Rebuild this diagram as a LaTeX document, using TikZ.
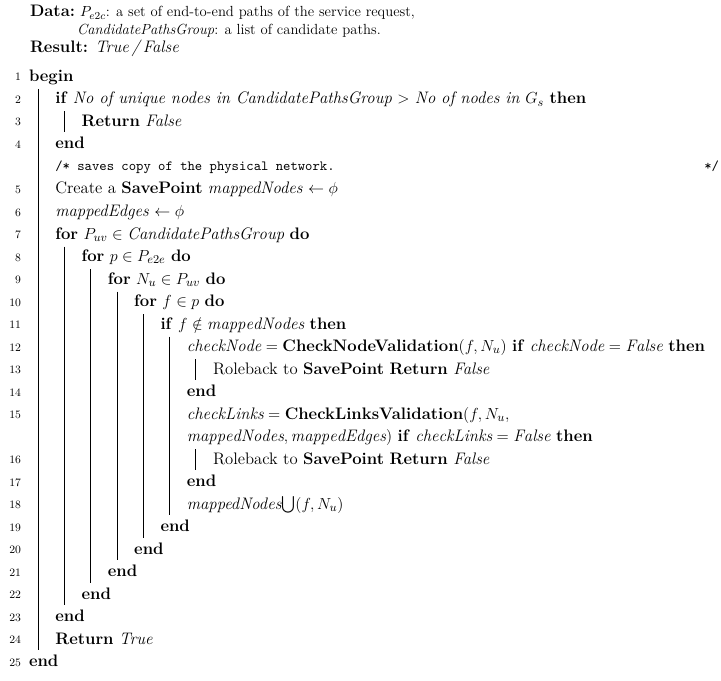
\documentclass[tikz,border=0pt]{standalone}
\usepackage{amssymb}
\usepackage{fontspec}
\newcommand{\rowStep}{22.5}
\newcommand{\firstRow}{77}
\newcommand{\indentStep}{26.3}
\newcommand{\textStart}{29}
\newcommand{\barOffset}{9}
\newcommand{\barReach}{10.5}
\tikzstyle{code}=[inner sep=0, outer sep=0, anchor=base west, font=\fontsize{12.5}{14}\selectfont]
\tikzstyle{lineNo}=[inner sep=0, outer sep=0, anchor=base east, font=\fontsize{8.5}{10}\selectfont]
\tikzstyle{head}=[inner sep=0, outer sep=0, anchor=base west, font=\fontsize{11}{12}\selectfont]
\tikzstyle{note}=[inner sep=0, outer sep=0, anchor=base west, font=\fontsize{10.5}{12}\ttfamily]
\tikzstyle{blockBar}=[draw=black, line width=0.5pt]
% row (r), level (k), number, text
\newcommand{\codeRow}[4]{%
  \node[code] (row#1) at ({\textStart+\indentStep*#2}, {\firstRow+\rowStep*#1+4.5}) {#4};
  \node[lineNo] (no#1) at (21, {\firstRow+\rowStep*#1+4}) {#3};}
% level (k) of parent, first row, last row
\newcommand{\codeBar}[3]{%
  \draw[blockBar] ({\textStart+\indentStep*#1+\barOffset}, {\firstRow+\rowStep*#2-\barReach})
    -- ({\textStart+\indentStep*#1+\barOffset}, {\firstRow+\rowStep*#3+\barReach});}
\begin{document}
\begin{tikzpicture}[x=0.75pt, y=-0.75pt]
\useasboundingbox (0,0) rectangle (721,681);

% Header
\node[code] (dataLabel) at (30, 17) {\textbf{Data:}};
\node[head] (dataOne) at (80, 17) {$P_{e2c}$: a set of end-to-end paths of the service request,};
\node[head] (dataTwo) at (77, 35) {\textit{CandidatePathsGroup}: a list of candidate paths.};
\node[code] (result) at (30, 53) {\textbf{Result:} \textit{True\,/\,False}};

% Body
\codeRow{0}{0}{1}{\textbf{begin}}
\codeRow{1}{1}{2}{\textbf{if} \textit{No of unique nodes in CandidatePathsGroup} $>$ \textit{No of nodes in} $G_s$ \textbf{then}}
\codeRow{2}{2}{3}{\textbf{Return} \textit{False}}
\codeRow{3}{1}{4}{\textbf{end}}
\node[note] (comment) at ({\textStart+\indentStep}, {\firstRow+\rowStep*4+3.5}) {/* saves copy of the physical network.};
\node[note, anchor=base east] (commentEnd) at (719, {\firstRow+\rowStep*4+3.5}) {*/};
\codeRow{5}{1}{5}{Create a \textbf{SavePoint} \textit{mappedNodes} $\leftarrow \phi$}
\codeRow{6}{1}{6}{\textit{mappedEdges} $\leftarrow \phi$}
\codeRow{7}{1}{7}{\textbf{for} $P_{uv} \in \mathit{CandidatePathsGroup}$ \textbf{do}}
\codeRow{8}{2}{8}{\textbf{for} $p \in P_{e2e}$ \textbf{do}}
\codeRow{9}{3}{9}{\textbf{for} $N_u \in P_{uv}$ \textbf{do}}
\codeRow{10}{4}{10}{\textbf{for} $f \in p$ \textbf{do}}
\codeRow{11}{5}{11}{\textbf{if} $f \notin \mathit{mappedNodes}$ \textbf{then}}
\codeRow{12}{6}{12}{$\mathit{checkNode} = \textbf{CheckNodeValidation}(f, N_u)$ \textbf{if} $\mathit{checkNode} = \mathit{False}$ \textbf{then}}
\codeRow{13}{7}{13}{Roleback to \textbf{SavePoint} \textbf{Return} \textit{False}}
\codeRow{14}{6}{14}{\textbf{end}}
\codeRow{15}{6}{15}{$\mathit{checkLinks} = \textbf{CheckLinksValidation}(f, N_u,$}
\codeRow{16}{6}{}{$\mathit{mappedNodes}, \mathit{mappedEdges})$ \textbf{if} $\mathit{checkLinks} = \mathit{False}$ \textbf{then}}
\codeRow{17}{7}{16}{Roleback to \textbf{SavePoint} \textbf{Return} \textit{False}}
\codeRow{18}{6}{17}{\textbf{end}}
\codeRow{19}{6}{18}{\textit{mappedNodes}$\bigcup(f, N_u)$}
\codeRow{20}{5}{19}{\textbf{end}}
\codeRow{21}{4}{20}{\textbf{end}}
\codeRow{22}{3}{21}{\textbf{end}}
\codeRow{23}{2}{22}{\textbf{end}}
\codeRow{24}{1}{23}{\textbf{end}}
\codeRow{25}{1}{24}{\textbf{Return} \textit{True}}
\codeRow{26}{0}{25}{\textbf{end}}

% Block bars
\codeBar{0}{1}{25}
\codeBar{1}{2}{2}
\codeBar{1}{8}{23}
\codeBar{2}{9}{22}
\codeBar{3}{10}{21}
\codeBar{4}{11}{20}
\codeBar{5}{12}{19}
\codeBar{6}{13}{13}
\codeBar{6}{17}{17}

\end{tikzpicture}
\end{document}
